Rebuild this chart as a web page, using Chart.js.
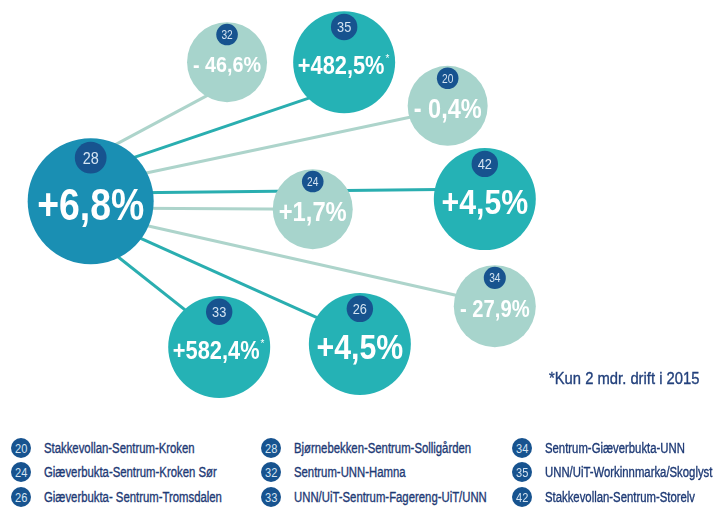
<!DOCTYPE html>
<html><head><meta charset="utf-8">
<script src="https://cdn.jsdelivr.net/npm/chart.js@4.4.1/dist/chart.umd.min.js"></script>
<style>
html,body{margin:0;padding:0;background:#fff;width:714px;height:515px;overflow:hidden;}
#wrap{position:relative;width:714px;height:515px;font-family:"Liberation Sans",Arial,sans-serif;}
#c{position:absolute;left:0;top:0;}
.note{position:absolute;left:549px;top:368px;font-size:17px;line-height:22px;color:#23417c;white-space:nowrap;transform:scaleX(0.87);transform-origin:0 50%;-webkit-text-stroke:0.35px #23417c;}
.leg{position:absolute;display:flex;align-items:center;height:22px;font-size:14px;color:#1e3a75;white-space:nowrap;}
.leg .b{width:20px;height:20px;border-radius:50%;background:#17538f;color:#d5e4f2;font-size:13px;display:flex;align-items:center;justify-content:center;margin-right:13px;flex:none;}
.leg .b span{display:inline-block;transform:scaleX(0.85);}
.leg .t{display:inline-block;transform:scaleX(0.81);transform-origin:0 50%;-webkit-text-stroke:0.35px #1e3a75;}
</style>
</head><body>
<div id="wrap">
<canvas id="c" width="714" height="420"></canvas>
<div class="note">*Kun 2 mdr. drift i 2015</div>
<div id="legend"></div>
</div>
<script>
// ---- data ----
const routes      = ['28', '32', '35', '20', '24', '42', '34', '26', '33'];
const changeText  = ['+6,8%', '- 46,6%', '+482,5%', '- 0,4%', '+1,7%', '+4,5%', '- 27,9%', '+4,5%', '+582,4%'];
const changeValue = [6.8, -46.6, 482.5, -0.4, 1.7, 4.5, -27.9, 4.5, 582.4];
const partialYear = [false, false, true, false, false, false, false, false, true];
const group       = ['hub', 'low', 'high', 'low', 'low', 'high', 'low', 'high', 'high'];
const posX        = [12.7, 31.8, 48.2, 62.7, 43.8, 67.9, 69.3, 50.4, 30.7];
const posY        = [47.9, 14.8, 14.8, 25.2, 49.8, 47.4, 72.9, 81.9, 82.6];
const bubbleSize  = [63, 40, 51, 40, 40, 51, 41, 51, 51];
// links from the hub (route 28) to every other route: y where link leaves hub / reaches target
const linkFromY   = [null, 37.6, 41.0, 44.0, 49.5, 46.0, 50.7, 51.4, 56.0];
const linkToY     = [null, 20.2, 20.5, 26.0, 49.8, 45.0, 72.4, 80.2, 80.2];

const legendRoutes = ['20', '24', '26', '28', '32', '33', '34', '35', '42'];
const legendNames  = ['Stakkevollan-Sentrum-Kroken', 'Giæverbukta-Sentrum-Kroken Sør', 'Giæverbukta- Sentrum-Tromsdalen',
                      'Bjørnebekken-Sentrum-Solligården', 'Sentrum-UNN-Hamna', 'UNN/UiT-Sentrum-Fagereng-UiT/UNN',
                      'Sentrum-Giæverbukta-UNN', 'UNN/UiT-Workinnmarka/Skoglyst', 'Stakkevollan-Sentrum-Storelv'];

// ---- styles ----
const fill = {hub:'#1a8fb3', high:'#25b2b5', low:'#a7d4cc'};
const lineCol = {high:'#2aaeb0', low:'#add4cb'};
const FAM = '"Liberation Sans",Arial,sans-serif';

const datasets = [];
for (let i = 1; i < routes.length; i++) {
  datasets.push({
    type: 'line',
    data: [{x: posX[0], y: linkFromY[i]}, {x: posX[i], y: linkToY[i]}],
    borderColor: lineCol[group[i]],
    borderWidth: 3,
    pointRadius: 0,
    fill: false,
    order: 3,
    clip: false
  });
}
datasets.push({
  type: 'bubble',
  data: routes.map((r, i) => ({x: posX[i], y: posY[i], r: bubbleSize[i]})),
  backgroundColor: group.map(g => fill[g]),
  borderWidth: 0,
  hoverBorderWidth: 0,
  order: 1,
  clip: false
});
const bubbleIndex = datasets.length - 1;

function scaledText(ctx, text, cx, base, sx) {
  const w = ctx.measureText(text).width * sx;
  ctx.save();
  ctx.translate(cx - w / 2, base);
  ctx.scale(sx, 1);
  ctx.textAlign = 'left';
  ctx.fillText(text, 0, 0);
  ctx.restore();
  return w;
}

const labelPlugin = {
  id: 'bubbleLabels',
  afterDatasetsDraw(chart) {
    const ctx = chart.ctx;
    const meta = chart.getDatasetMeta(bubbleIndex);
    meta.data.forEach((el, i) => {
      const r = bubbleSize[i];
      const cx = el.x, cy = el.y;
      ctx.save();
      // badge
      const br = 0.22 * r + 2;
      const by = cy - 0.69 * r;
      ctx.beginPath();
      ctx.arc(cx, by, br, 0, Math.PI * 2);
      ctx.fillStyle = '#17538f';
      ctx.fill();
      ctx.fillStyle = '#d5e4f2';
      ctx.font = `${Math.round(br * 1.1)}px ${FAM}`;
      ctx.textBaseline = 'alphabetic';
      const bm = ctx.measureText(routes[i]);
      scaledText(ctx, routes[i], cx, by + bm.actualBoundingBoxAscent / 2, 0.85);
      // value text
      const sx = 0.86;
      const label = changeText[i];
      let fs = 40;
      ctx.font = `bold ${fs}px ${FAM}`;
      let m = ctx.measureText(label);
      fs = fs * (1.7 * r) / (m.width * sx);
      ctx.font = `bold ${fs}px ${FAM}`;
      m = ctx.measureText(label);
      const asc = m.actualBoundingBoxAscent;
      const starShift = partialYear[i] ? 3 : 0;
      const base = cy + 0.06 * r + asc / 2;
      ctx.fillStyle = '#ffffff';
      const w = scaledText(ctx, label, cx - starShift, base, sx);
      if (partialYear[i]) {
        ctx.font = `${Math.round(fs * 0.4)}px ${FAM}`;
        ctx.textAlign = 'left';
        ctx.fillText('*', cx - starShift + w / 2 + 1, base - asc + 6);
      }
      ctx.restore();
    });
  }
};

new Chart(document.getElementById('c'), {
  type: 'bubble',
  data: {datasets},
  options: {
    responsive: false,
    animation: false,
    events: [],
    layout: {padding: 0, autoPadding: false},
    scales: {
      x: {type: 'linear', min: 0, max: 100, display: false},
      y: {type: 'linear', min: 0, max: 100, reverse: true, display: false}
    },
    plugins: {legend: {display: false}, tooltip: {enabled: false}}
  },
  plugins: [labelPlugin]
});

// legend
const colLeft = [11, 261, 512];
const rowTop = [437, 461, 486];
const lg = document.getElementById('legend');
legendRoutes.forEach((r, i) => {
  const d = document.createElement('div');
  d.className = 'leg';
  d.style.left = colLeft[Math.floor(i / 3)] + 'px';
  d.style.top = rowTop[i % 3] + 'px';
  d.innerHTML = `<span class="b"><span>${r}</span></span><span class="t">${legendNames[i]}</span>`;
  lg.appendChild(d);
});
</script>
</body></html>
